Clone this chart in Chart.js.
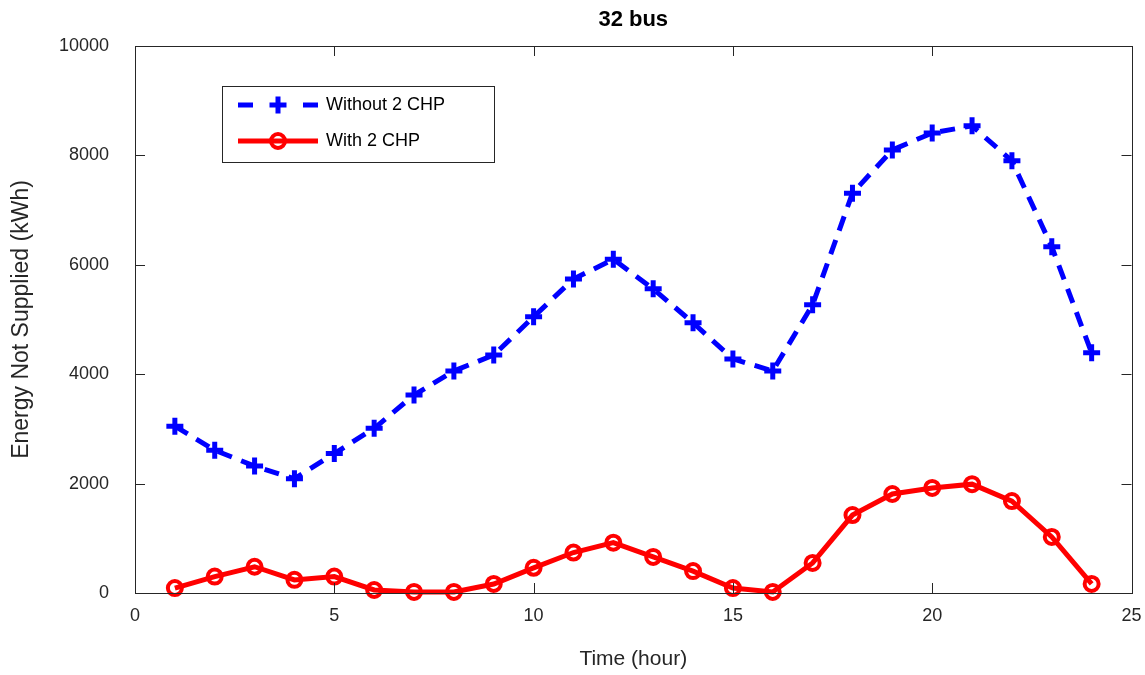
<!DOCTYPE html>
<html>
<head>
<meta charset="utf-8">
<title>32 bus</title>
<script src="https://cdn.jsdelivr.net/npm/chart.js@4.4.1/dist/chart.umd.min.js"></script>
<style>
  html, body { margin: 0; padding: 0; background: #fff; }
  #wrap { width: 1145px; height: 675px; }
</style>
</head>
<body>
<div id="wrap"><canvas id="chart" width="1145" height="675"></canvas></div>
<script>
// hours 1..24
const hours = [1, 2, 3, 4, 5, 6, 7, 8, 9, 10, 11, 12, 13, 14, 15, 16, 17, 18, 19, 20, 21, 22, 23, 24];

// Energy not supplied (kWh)
const withoutChp = [3050, 2610, 2320, 2090, 2550, 3010, 3620, 4060, 4350, 5050, 5740, 6100,
                    5560, 4940, 4280, 4060, 5270, 7310, 8100, 8410, 8540, 7900, 6330, 4390];
const withChp    = [90, 300, 480, 240, 300, 55, 20, 20, 165, 460, 740, 920,
                    660, 400, 90, 20, 550, 1425, 1810, 1920, 1990, 1680, 1025, 165];

const xTicks = [0, 5, 10, 15, 20, 25];
const yTicks = [0, 2000, 4000, 6000, 8000, 10000];

const FONT = "'Liberation Sans', Arial, sans-serif";
const AXIS = '#262626';

const toPoints = (ys) => hours.map((h, i) => ({ x: h, y: ys[i] }));

// MATLAB-style box with inward ticks
const frameTicks = {
  id: 'frameTicks',
  afterDatasetsDraw(chart) {
    const { ctx, chartArea: a, scales: { x, y } } = chart;
    const len = 10;
    ctx.save();
    ctx.strokeStyle = AXIS;
    ctx.lineWidth = 1;
    ctx.beginPath();
    xTicks.forEach(v => {
      const px = Math.round(x.getPixelForValue(v)) + 0.5;
      ctx.moveTo(px, a.bottom); ctx.lineTo(px, a.bottom - len);
      ctx.moveTo(px, a.top);    ctx.lineTo(px, a.top + len);
    });
    yTicks.forEach(v => {
      const py = Math.round(y.getPixelForValue(v)) + 0.5;
      ctx.moveTo(a.left, py);  ctx.lineTo(a.left + len, py);
      ctx.moveTo(a.right, py); ctx.lineTo(a.right - len, py);
    });
    ctx.stroke();
    ctx.strokeRect(Math.round(a.left) + 0.5, Math.round(a.top) + 0.5,
                   Math.round(a.right - a.left), Math.round(a.bottom - a.top));
    ctx.restore();
  }
};

// boxed legend in the upper left
const boxLegend = {
  id: 'boxLegend',
  afterDraw(chart) {
    const { ctx } = chart;
    const bx = 222, by = 86, bw = 272, bh = 76;
    ctx.save();
    ctx.fillStyle = '#fff';
    ctx.fillRect(bx, by, bw, bh);
    ctx.strokeStyle = AXIS;
    ctx.lineWidth = 1;
    ctx.strokeRect(bx + 0.5, by + 0.5, bw, bh);

    chart.data.datasets.forEach((ds, i) => {
      const cy = 105 + i * 36;
      ctx.strokeStyle = ds.borderColor;
      ctx.lineWidth = ds.borderWidth;
      ctx.beginPath();
      if (ds.borderDash) {
        // "- + -" sample
        ctx.moveTo(238, cy); ctx.lineTo(253, cy);
        ctx.moveTo(303, cy); ctx.lineTo(318, cy);
      } else {
        ctx.moveTo(238, cy); ctx.lineTo(318, cy);
      }
      ctx.stroke();

      ctx.strokeStyle = ds.pointBorderColor;
      ctx.fillStyle = 'rgba(0,0,0,0)';
      ctx.lineWidth = ds.pointBorderWidth;
      Chart.helpers.drawPoint(ctx, {
        pointStyle: ds.pointStyle,
        radius: ds.pointRadius,
        borderWidth: ds.pointBorderWidth,
        rotation: 0
      }, 278, cy);

      ctx.fillStyle = '#000';
      ctx.font = '18px ' + FONT;
      ctx.textBaseline = 'middle';
      ctx.fillText(ds.label, 326, cy);
    });
    ctx.restore();
  }
};

new Chart(document.getElementById('chart'), {
  type: 'line',
  data: {
    datasets: [
      {
        label: 'Without 2 CHP',
        data: toPoints(withoutChp),
        borderColor: '#0000ff',
        backgroundColor: '#0000ff',
        borderWidth: 5,
        borderDash: [15, 10],
        pointStyle: 'cross',
        pointRadius: 8.5,
        pointBorderWidth: 5,
        pointBorderColor: '#0000ff',
        fill: false,
        tension: 0
      },
      {
        label: 'With 2 CHP',
        data: toPoints(withChp),
        borderColor: '#ff0000',
        backgroundColor: '#ffffff',
        borderWidth: 5,
        pointStyle: 'circle',
        pointRadius: 7,
        pointBorderWidth: 4,
        pointBorderColor: '#ff0000',
        pointBackgroundColor: 'rgba(0,0,0,0)',
        fill: false,
        tension: 0
      }
    ]
  },
  options: {
    responsive: false,
    animation: false,
    devicePixelRatio: 1,
    clip: false,
    layout: { padding: { left: 0, right: 13, top: 0, bottom: 0 } },
    plugins: {
      legend: { display: false },
      tooltip: { enabled: false },
      title: {
        display: true,
        text: '32 bus',
        fullSize: false,
        color: '#000',
        font: { family: FONT, size: 22, weight: 'bold' },
        padding: { top: 7, bottom: 12.6 }
      }
    },
    scales: {
      x: {
        type: 'linear',
        min: 0,
        max: 25,
        afterBuildTicks: (s) => { s.ticks = xTicks.map(v => ({ value: v })); },
        afterFit: (s) => { s.height = 82; s.paddingLeft = 0; s.paddingRight = 0; },
        grid: { display: false, drawTicks: false },
        border: { display: false },
        ticks: {
          color: AXIS,
          padding: 12,
          maxRotation: 0,
          font: { family: FONT, size: 18 },
          callback: (v) => String(v)
        },
        title: {
          display: true,
          text: 'Time (hour)',
          color: AXIS,
          font: { family: FONT, size: 21 },
          padding: { top: 0, bottom: 3 }
        }
      },
      y: {
        min: 0,
        max: 10000,
        afterBuildTicks: (s) => { s.ticks = yTicks.map(v => ({ value: v })); },
        afterFit: (s) => { s.width = 135; },
        grid: { display: false, drawTicks: false },
        border: { display: false },
        ticks: {
          color: AXIS,
          padding: 26,
          font: { family: FONT, size: 18 },
          callback: (v) => String(v)
        },
        title: {
          display: true,
          text: 'Energy Not Supplied (kWh)',
          color: AXIS,
          font: { family: FONT, size: 23 },
          padding: { top: 8, bottom: 0 }
        }
      }
    }
  },
  plugins: [frameTicks, boxLegend]
});
</script>
</body>
</html>
